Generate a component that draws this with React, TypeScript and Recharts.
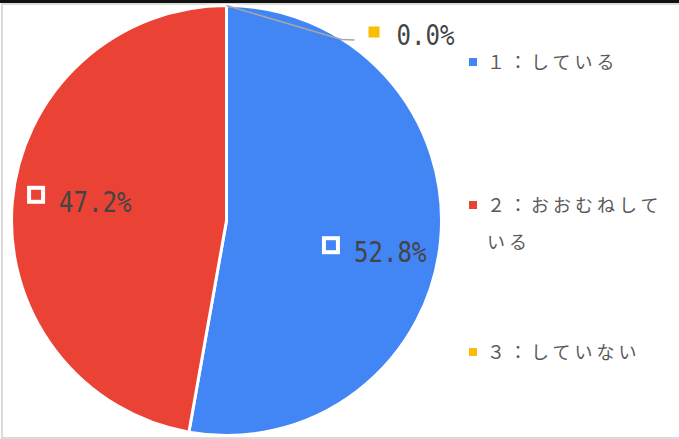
import React from 'react';
import { PieChart, Pie, Cell, Legend } from 'recharts';

const categories = ['１：している', '２：おおむねしている', '３：していない'];
const values = [52.8, 47.2, 0.0];
const colors = ['#4285F4', '#EA4335', '#FBBC04'];

const data = categories.map((name, i) => ({ name, value: values[i] }));

const RADIAN = Math.PI / 180;
const LABEL_FONT = '"DejaVu Sans Mono", monospace';

const renderLabel = (props: any) => {
  const { cx, cy, midAngle, outerRadius, value, index } = props;
  const text = `${Number(value).toFixed(1)}%`;
  const textW = 14.5 * text.length;
  if (value === 0) {
    const sx = cx + outerRadius * Math.cos(-midAngle * RADIAN);
    const sy = cy + outerRadius * Math.sin(-midAngle * RADIAN);
    const mx = sx + 115;
    const my = sy + 34;
    const ex = mx + 13;
    return (
      <g key={`lbl-${index}`}>
        <polyline points={`${sx},${sy} ${mx},${my} ${ex},${my + 0.5}`} fill="none" stroke="#a6a6a6" strokeWidth={1.5} />
        <rect x={ex + 14} y={my - 13} width={11} height={11} fill={colors[index]} />
        <text x={ex + 42} y={my - 5} dominantBaseline="central" fontFamily={LABEL_FONT} fontSize={29} fill="#444444" textLength={textW} lengthAdjust="spacingAndGlyphs">{text}</text>
      </g>
    );
  }
  const gx = cx + 148 * Math.cos(-midAngle * RADIAN);
  const gy = cy + 5 + 287 * Math.sin(-midAngle * RADIAN);
  return (
    <g key={`lbl-${index}`}>
      <rect x={gx - 50} y={gy - 12.5} width={14} height={14} fill="none" stroke="#ffffff" strokeWidth={4} />
      <text x={gx - 20} y={gy + 1.5} dominantBaseline="central" fontFamily={LABEL_FONT} fontSize={29} fill="#444444" textLength={textW} lengthAdjust="spacingAndGlyphs">{text}</text>
    </g>
  );
};

const itemTops = [43, 186, 333];

const renderLegend = (props: any) => {
  const { payload } = props;
  return (
    <div style={{ position: 'relative', width: 214, height: 439 }}>
      {(payload || []).map((entry: any, i: number) => (
        <div key={i} style={{ position: 'absolute', left: 0, top: itemTops[i], display: 'flex', alignItems: 'flex-start' }}>
          <div style={{ width: 8, height: 8, background: entry.color, marginTop: 15, marginLeft: 4, flexShrink: 0 }} />
          <div style={{ marginLeft: 10, width: 186, fontFamily: '"Noto Sans CJK JP", sans-serif', fontSize: 18, lineHeight: '37px', letterSpacing: 4, color: '#595959', wordBreak: 'break-all' }}>
            {entry.value}
          </div>
        </div>
      ))}
    </div>
  );
};

export default function App() {
  return (
    <div style={{ position: 'absolute', left: 0, top: 0, width: 679, height: 439, background: '#ffffff', overflow: 'hidden' }}>
      <div style={{ position: 'absolute', left: 1, top: 3, width: 700, height: 436, boxSizing: 'border-box', border: '2px solid #dadada' }} />
      <div style={{ position: 'absolute', left: 0, top: 0 }}>
        <PieChart width={679} height={439} margin={{ top: 0, right: 0, bottom: 0, left: 0 }}>
          <Pie
            data={data}
            dataKey="value"
            nameKey="name"
            cx={226.5}
            cy={220.5}
            outerRadius={215}
            startAngle={90}
            endAngle={-270}
            stroke="#ffffff"
            strokeWidth={3}
            label={renderLabel}
            labelLine={false}
            isAnimationActive={false}
          >
            {data.map((d, i) => (
              <Cell key={d.name} fill={colors[i]} />
            ))}
          </Pie>
          <Legend
            layout="vertical"
            align="right"
            verticalAlign="top"
            content={renderLegend}
            wrapperStyle={{ left: 465, top: 0, width: 214, height: 439 }}
          />
        </PieChart>
      </div>
      <div style={{ position: 'absolute', left: 0, top: 0, width: 679, height: 3, background: '#111111' }} />
    </div>
  );
}
